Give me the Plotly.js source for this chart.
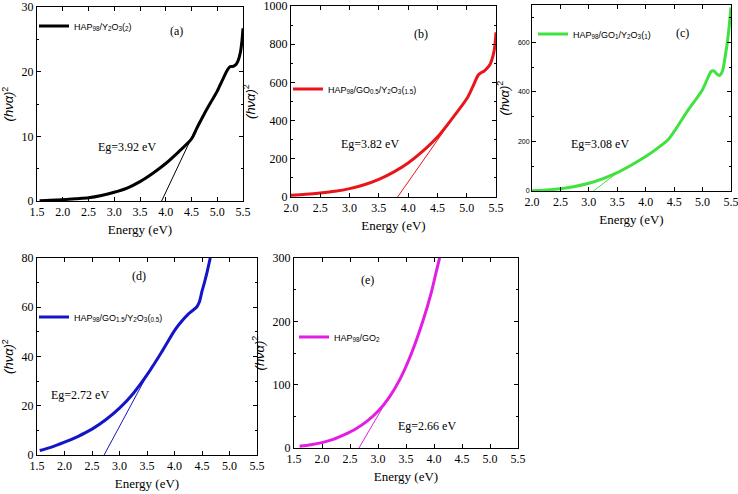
<!DOCTYPE html>
<html>
<head>
<meta charset="utf-8">
<script src="https://cdn.plot.ly/plotly-3.0.1.min.js"></script>
<style>
  html, body { margin: 0; padding: 0; background: #fff; }
  #chart { width: 738px; height: 494px; }
</style>
</head>
<body>
<div id="chart"></div>
<script>
// Tauc plots, (hνα)^2 versus photon energy, for five compositions

// (a) HAP98/Y2O3(2)
const energyA = [1.55, 1.75, 2.0, 2.25, 2.5, 2.75, 3.0, 3.25, 3.5, 3.75, 4.0, 4.25, 4.5, 4.6, 4.75, 4.9, 5.0, 5.1, 5.2, 5.25, 5.3, 5.35, 5.4, 5.45, 5.48, 5.5];
const tau_A   = [0.05, 0.1, 0.2, 0.35, 0.5, 0.85, 1.35, 2.0, 3.0, 4.3, 5.8, 7.6, 9.6, 11.2, 13.5, 15.6, 17.0, 18.7, 20.3, 20.8, 20.8, 21.0, 21.6, 23.0, 24.8, 26.7];
const gapA = 3.92;
const fitA_end = [4.65, 12.3];

// (b) HAP98/GO0.5/Y2O3(1.5)
const energyB = [2.0, 2.25, 2.5, 2.75, 3.0, 3.25, 3.5, 3.75, 4.0, 4.25, 4.5, 4.75, 5.0, 5.1, 5.2, 5.25, 5.3, 5.35, 5.4, 5.45, 5.48, 5.5];
const tau_B   = [9, 14, 21, 30, 44, 64, 92, 130, 178, 240, 314, 410, 514, 575, 640, 652, 660, 675, 695, 740, 790, 862];
const gapB = 3.82;
const fitB_end = [4.7, 385];

// (c) HAP98/GO1/Y2O3(1)
const energyC = [2.0, 2.25, 2.5, 2.75, 3.0, 3.25, 3.5, 3.75, 4.0, 4.25, 4.4, 4.5, 4.6, 4.75, 4.9, 5.0, 5.1, 5.15, 5.2, 5.25, 5.3, 5.35, 5.4, 5.45, 5.5];
const tau_C   = [1, 4, 9, 18, 31, 50, 74, 105, 139, 180, 209, 240, 275, 328, 375, 409, 460, 482, 484, 472, 466, 484, 545, 626, 740];
const gapC = 3.08;
const fitC_end = [3.58, 88];

// (d) HAP98/GO1.5/Y2O3(0.5)
const energyD = [1.55, 1.75, 2.0, 2.25, 2.5, 2.75, 3.0, 3.25, 3.5, 3.75, 4.0, 4.1, 4.25, 4.4, 4.45, 4.5, 4.55, 4.6, 4.65];
const tau_D   = [1.8, 3.1, 5.2, 7.6, 10.5, 14.3, 19.0, 25.0, 32.5, 41.2, 50.5, 53.5, 57.2, 60.0, 62.0, 66.5, 70.5, 75, 80];
const gapD = 2.72;
const fitD_end = [3.6, 36.5];

// (e) HAP98/GO2
const energyE = [1.6, 1.8, 2.0, 2.2, 2.4, 2.6, 2.8, 3.0, 3.2, 3.4, 3.6, 3.8, 3.95, 4.05, 4.1];
const tau_E   = [2.6, 5, 8.5, 13.5, 21, 30, 42, 58, 80, 110, 150, 200, 245, 282, 300];
const gapE = 2.66;
const fitE_end = [3.15, 74];

const names = [
  'HAP<sub>98</sub>/Y<sub>2</sub>O<sub>3</sub>(<sub>2</sub>)',
  'HAP<sub>98</sub>/GO<sub>0.5</sub>/Y<sub>2</sub>O<sub>3</sub>(<sub>1.5</sub>)',
  'HAP<sub>98</sub>/GO<sub>1</sub>/Y<sub>2</sub>O<sub>3</sub>(<sub>1</sub>)',
  'HAP<sub>98</sub>/GO<sub>1.5</sub>/Y<sub>2</sub>O<sub>3</sub>(<sub>0.5</sub>)',
  'HAP<sub>98</sub>/GO<sub>2</sub>'
];
const panelTags = ['(a)', '(b)', '(c)', '(d)', '(e)'];
const colors = ['#000000', '#e8151b', '#3fe23f', '#1414c8', '#e21ee2'];

// ---------- layout helpers (pixel boxes on a 738 x 494 page) ----------
const W = 738, H = 494;
const px = v => v / W;
const py = v => 1 - v / H;

const serif = 'Liberation Serif';
const sans = 'Liberation Sans';

function xAxis(box, range, tick0, anchor) {
  return {
    domain: [px(box[0]), px(box[1])],
    range: range, tick0: tick0, dtick: 0.5, tickformat: '.1f',
    anchor: anchor,
    showline: true, linecolor: '#000', linewidth: 1, mirror: 'ticks',
    ticks: 'inside', ticklen: 4, tickcolor: '#000',
    minor: { ticks: 'inside', ticklen: 2, tickcolor: '#000', nticks: 2 },
    showgrid: false, zeroline: false,
    ticklabeloverflow: 'allow',
    tickfont: { family: serif, size: 12, color: '#000' },
    title: { text: 'Energy (eV)', font: { family: serif, size: 13, color: '#000' }, standoff: 6 }
  };
}
function yAxis(box, range, dtick, anchor, tickfont) {
  return {
    domain: [py(box[3]), py(box[2])],
    range: range, dtick: dtick, tick0: 0,
    anchor: anchor,
    showline: true, linecolor: '#000', linewidth: 1, mirror: 'ticks',
    ticks: 'inside', ticklen: 4, tickcolor: '#000',
    minor: { ticks: 'inside', ticklen: 2, tickcolor: '#000', nticks: 2 },
    showgrid: false, zeroline: false,
    ticklabeloverflow: 'allow',
    tickfont: tickfont || { family: serif, size: 12, color: '#000' },
    title: { text: '<i>(hνα)</i><sup>2</sup>', font: { family: sans, size: 13, color: '#000' }, standoff: 5 }
  };
}
function legendAt(left, midY) {
  return {
    x: px(left), y: py(midY), xref: 'paper', yref: 'paper',
    xanchor: 'left', yanchor: 'middle',
    bgcolor: 'rgba(0,0,0,0)', borderwidth: 0,
    font: { family: sans, size: 9, color: '#000' },
    itemwidth: 30, tracegroupgap: 0
  };
}

// panel boxes: [left, right, top, bottom] in px
const boxA = [37, 243, 7, 201];
const boxB = [291, 496, 6, 197];
const boxC = [532, 731, 5, 191];
const boxD = [37, 257, 258, 455];
const boxE = [294, 518, 258, 448];

const curves = [
  [energyA, tau_A, gapA, fitA_end],
  [energyB, tau_B, gapB, fitB_end],
  [energyC, tau_C, gapC, fitC_end],
  [energyD, tau_D, gapD, fitD_end],
  [energyE, tau_E, gapE, fitE_end]
];
const axisIds = ['', '2', '3', '4', '5'];
const legendIds = ['legend', 'legend2', 'legend3', 'legend4', 'legend5'];

const traces = [];
curves.forEach((c, i) => {
  const xa = 'x' + axisIds[i], ya = 'y' + axisIds[i];
  traces.push({
    x: c[0], y: c[1], type: 'scatter', mode: 'lines',
    line: { color: colors[i], width: 3, shape: 'spline', smoothing: 0.8 },
    name: names[i], xaxis: xa, yaxis: ya, legend: legendIds[i], showlegend: true,
    hoverinfo: 'x+y'
  });
  // linear extrapolation of the absorption edge down to the energy axis
  traces.push({
    x: [c[2], c[3][0]], y: [0, c[3][1]], type: 'scatter', mode: 'lines',
    line: { color: colors[i], width: 1 },
    xaxis: xa, yaxis: ya, showlegend: false, hoverinfo: 'skip'
  });
});

const gapNote = g => 'Eg=' + g.toFixed(2) + ' eV';
const noteFont = { family: serif, size: 12, color: '#000' };

const annotations = [
  { xref: 'x',  yref: 'y',  x: 4.20, y: 26.3, text: panelTags[0], showarrow: false, font: noteFont },
  { xref: 'x',  yref: 'y',  x: 3.25, y: 8.3,  text: gapNote(gapA), showarrow: false, font: noteFont },
  { xref: 'x2', yref: 'y2', x: 4.22, y: 854,  text: panelTags[1], showarrow: false, font: noteFont },
  { xref: 'x2', yref: 'y2', x: 3.35, y: 276,  text: gapNote(gapB), showarrow: false, font: noteFont },
  { xref: 'x3', yref: 'y3', x: 4.64, y: 638,  text: panelTags[2], showarrow: false, font: noteFont },
  { xref: 'x3', yref: 'y3', x: 3.20, y: 190,  text: gapNote(gapC), showarrow: false, font: noteFont },
  { xref: 'x4', yref: 'y4', x: 3.35, y: 72.7, text: panelTags[3], showarrow: false, font: noteFont },
  { xref: 'x4', yref: 'y4', x: 2.28, y: 24.4, text: gapNote(gapD), showarrow: false, font: noteFont },
  { xref: 'x5', yref: 'y5', x: 2.82, y: 265,  text: panelTags[4], showarrow: false, font: noteFont },
  { xref: 'x5', yref: 'y5', x: 3.88, y: 35,   text: gapNote(gapE), showarrow: false, font: noteFont }
];

const layout = {
  width: W, height: H,
  margin: { l: 0, r: 0, t: 0, b: 0 },
  paper_bgcolor: '#fff', plot_bgcolor: '#fff',
  font: { family: serif, size: 12, color: '#000' },
  showlegend: true,
  xaxis:  xAxis(boxA, [1.5, 5.5], 1.5, 'y'),
  yaxis:  yAxis(boxA, [0, 30], 10, 'x'),
  xaxis2: xAxis(boxB, [2.0, 5.5], 2.0, 'y2'),
  yaxis2: yAxis(boxB, [0, 1000], 200, 'x2'),
  xaxis3: xAxis(boxC, [2.0, 5.5], 2.0, 'y3'),
  yaxis3: yAxis(boxC, [0, 750], 200, 'x3', { family: sans, size: 7, color: '#000' }),
  xaxis4: xAxis(boxD, [1.5, 5.5], 1.5, 'y4'),
  yaxis4: yAxis(boxD, [0, 80], 20, 'x4'),
  xaxis5: xAxis(boxE, [1.5, 5.5], 1.5, 'y5'),
  yaxis5: yAxis(boxE, [0, 300], 100, 'x5'),
  legend:  legendAt(34, 26),
  legend2: legendAt(288, 89),
  legend3: legendAt(533, 34),
  legend4: legendAt(34, 317),
  legend5: legendAt(294, 337),
  annotations: annotations
};

Plotly.newPlot('chart', traces, layout, { displayModeBar: false, staticPlot: true });
</script>
</body>
</html>
